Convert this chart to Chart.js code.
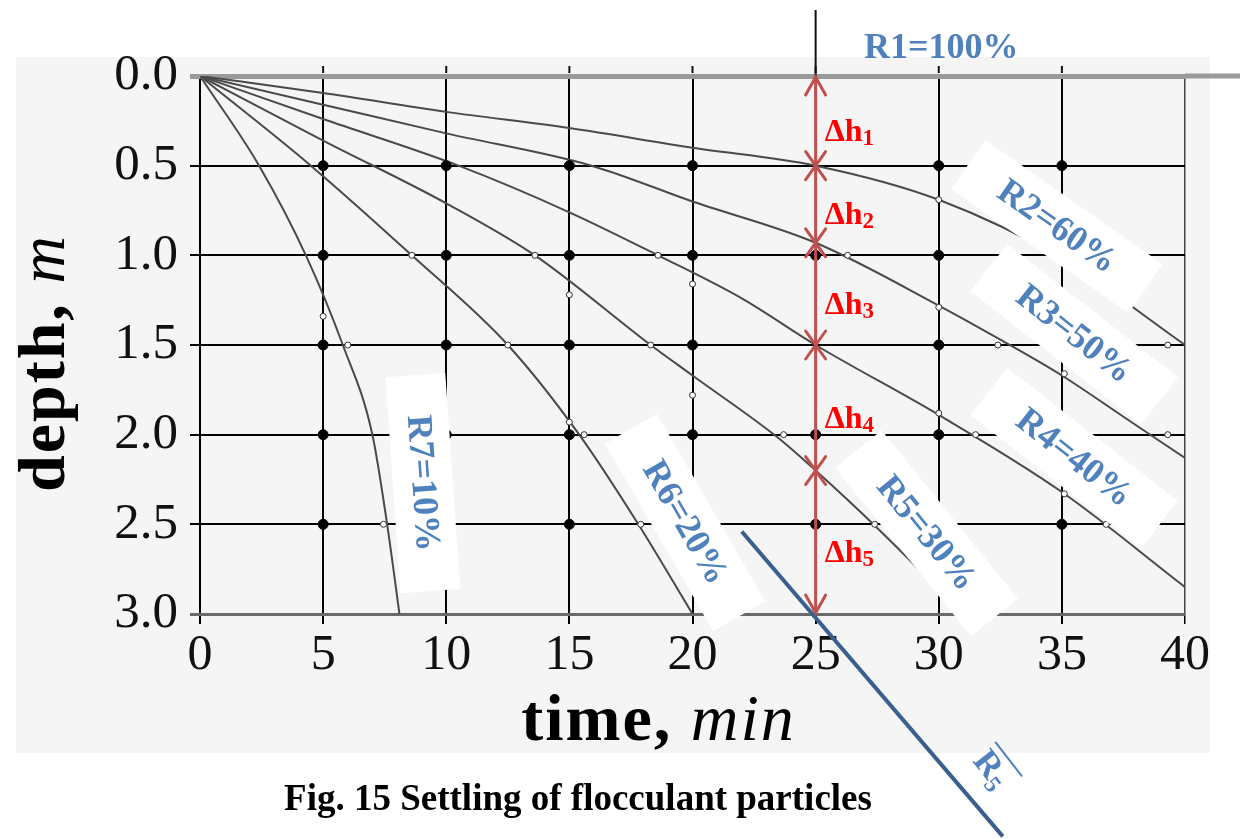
<!DOCTYPE html>
<html>
<head>
<meta charset="utf-8">
<title>Settling of flocculant particles</title>
<script src="https://cdn.jsdelivr.net/npm/chart.js@4.4.1/dist/chart.umd.min.js"></script>
<style>
  html, body { margin: 0; padding: 0; background: #fff; }
  canvas { display: block; }
</style>
</head>
<body>
<canvas id="settlingChart" width="1240" height="839"></canvas>
<script>
// Settling column test: depth reached by each iso-removal line over time
const timeTicks = [0, 5, 10, 15, 20, 25, 30, 35, 40];
const depthTicks = ['0.0', '0.5', '1.0', '1.5', '2.0', '2.5', '3.0'];

const ratioLabels = ['R1=100%', 'R2=60%', 'R3=50%', 'R4=40%', 'R5=30%', 'R6=20%', 'R7=10%'];

const r2Time  = [0, 5, 10, 15, 20, 25, 30, 35, 40];
const r2Depth = [0, 0.095, 0.2, 0.29, 0.4, 0.5, 0.69, 1.02, 1.5];

const r3Time  = [0, 5, 10, 15.9, 20, 25, 30, 32.5, 35, 37.5, 40];
const r3Depth = [0, 0.16, 0.32, 0.5, 0.7, 0.93, 1.28, 1.47, 1.67, 1.9, 2.13];

const r4Time  = [0, 5, 10.5, 15, 18.6, 22, 25, 30, 35, 40];
const r4Depth = [0, 0.24, 0.5, 0.76, 1.0, 1.24, 1.5, 1.89, 2.32, 2.85];

const r5Time  = [0, 5, 10, 13.6, 18.3, 20, 23.5, 25, 27.5, 31];
const r5Depth = [0, 0.36, 0.71, 1.0, 1.5, 1.67, 2.02, 2.2, 2.52, 3.0];

const r6Time  = [0, 4.5, 8.6, 12.5, 15.4, 17.8, 20];
const r6Depth = [0, 0.5, 1.0, 1.5, 2.0, 2.5, 3.0];

const r7Time  = [0, 2.4, 4.3, 5.8, 7.0, 7.6, 8.1];
const r7Depth = [0, 0.5, 1.0, 1.5, 2.0, 2.5, 3.0];

// sampling ports (filled) and measured points (open)
const portTime  = [5, 10, 15, 20, 30, 35,  5, 10, 15, 20, 25, 30,  5, 10, 15, 20, 30,  5, 10, 15, 20, 25, 30,  5, 15, 25, 35];
const portDepth = [0.5, 0.5, 0.5, 0.5, 0.5, 0.5,  1, 1, 1, 1, 1, 1,  1.5, 1.5, 1.5, 1.5, 1.5,  2, 2, 2, 2, 2, 2,  2.5, 2.5, 2.5, 2.5];

const sampleTime  = [30, 8.6, 13.6, 18.6, 26.3, 15, 20, 5.0, 6.0, 12.5, 18.3, 32.4, 39.3, 30, 35.1, 20, 15, 15.6, 23.7, 30, 31.5, 39.3, 35.1, 36.8, 27.4, 17.9, 7.45];
const sampleDepth = [0.69, 1.0, 1.0, 1.0, 1.0, 1.22, 1.16, 1.34, 1.5, 1.5, 1.5, 1.5, 1.5, 1.29, 1.66, 1.78, 1.93, 2.0, 2.0, 1.88, 2.0, 2.0, 2.33, 2.5, 2.5, 2.5, 2.5];

// overall removal line through the bottom of the column at t = 25
const r5BarTime  = [22.0, 32.6];
const r5BarDepth = [2.54, 4.24];

const readTime = 25;

const curves = [
    [r2Time, r2Depth], [r3Time, r3Depth], [r4Time, r4Depth],
    [r5Time, r5Depth], [r6Time, r6Depth], [r7Time, r7Depth]
];

function toPoints(xs, ys) {
    return xs.map((x, i) => ({ x: x, y: ys[i] }));
}

// label placement, in axis units
const labelSpots = [
    { t: 30.1, d: -0.16, angle: 0,  box: false },
    { t: 34.8, d: 0.84,  angle: 35, box: true },
    { t: 35.5, d: 1.44,  angle: 38, box: true },
    { t: 35.5, d: 2.13,  angle: 38, box: true },
    { t: 29.5, d: 2.55,  angle: 51, box: true },
    { t: 19.7, d: 2.49,  angle: 60, box: true },
    { t: 9.05, d: 2.27,  angle: 86, box: true }
];

const SERIF = '"Liberation Serif", "Times New Roman", serif';
const BLUE = '#4f81bd';

function drawRich(ctx, parts, x, y) {
    let cx = x;
    parts.forEach(p => {
        ctx.font = p.font;
        ctx.fillText(p.text, cx, y + (p.dy || 0));
        cx += ctx.measureText(p.text).width;
    });
    return cx - x;
}

function richWidth(ctx, parts) {
    let w = 0;
    parts.forEach(p => { ctx.font = p.font; w += ctx.measureText(p.text).width; });
    return w;
}

function depthAt(times, depths, t) {
    const i = times.indexOf(t);
    return i >= 0 ? depths[i] : null;
}

const overlayPlugin = {
    id: 'settlingOverlay',
    beforeDraw(chart) {
        const { ctx, chartArea: a } = chart;
        ctx.save();
        ctx.fillStyle = '#fff';
        ctx.fillRect(0, 0, chart.width, chart.height);
        ctx.fillStyle = '#f5f5f5';
        ctx.fillRect(a.left - 184, a.top - 19, a.right - a.left + 209, a.bottom - a.top + 158);
        ctx.restore();
    },
    beforeDatasetsDraw(chart) {
        const { ctx, chartArea: a, scales } = chart;
        const x = scales.x, y = scales.y;
        const y0 = y.getPixelForValue(0);
        ctx.save();
        // surface line runs on to the right edge
        ctx.strokeStyle = '#9a9a9a';
        ctx.lineWidth = 5;
        ctx.beginPath();
        ctx.moveTo(a.right, y0);
        ctx.lineTo(chart.width, y0);
        ctx.stroke();
        // short stubs above the surface
        ctx.strokeStyle = '#111';
        ctx.lineWidth = 2;
        timeTicks.slice(1, -1).forEach(t => {
            const px = x.getPixelForValue(t);
            ctx.beginPath();
            ctx.moveTo(px, y0 - 10);
            ctx.lineTo(px, y0 - 3);
            ctx.stroke();
        });
        const px25 = x.getPixelForValue(readTime);
        ctx.beginPath();
        ctx.moveTo(px25, 10);
        ctx.lineTo(px25, y0);
        ctx.stroke();
        ctx.restore();
    },
    beforeDatasetDraw(chart, args) {
        if (!chart.data.datasets[args.index].overlayLine) return;
        const { ctx, scales } = chart;
        const x = scales.x, y = scales.y;
        ctx.save();
        ctx.font = 'bold 36px ' + SERIF;
        labelSpots.forEach((s, i) => {
            const cx = x.getPixelForValue(s.t);
            const cy = y.getPixelForValue(s.d);
            const w = ctx.measureText(ratioLabels[i]).width;
            ctx.save();
            ctx.translate(cx, cy);
            ctx.rotate(s.angle * Math.PI / 180);
            if (s.box) {
                ctx.fillStyle = '#fff';
                ctx.fillRect(-w / 2 - 40, -30, w + 80, 60);
            }
            ctx.fillStyle = BLUE;
            ctx.textAlign = 'center';
            ctx.textBaseline = 'middle';
            ctx.fillText(ratioLabels[i], 0, 1);
            ctx.restore();
        });
        ctx.restore();
    },
    afterDatasetsDraw(chart) {
        const { ctx, chartArea: a, scales } = chart;
        const x = scales.x, y = scales.y;
        const px = x.getPixelForValue(readTime);
        const top = y.getPixelForValue(0);
        const bottom = y.getPixelForValue(3);
        const red = '#c0504d';

        ctx.save();
        ctx.strokeStyle = red;
        ctx.lineWidth = 3;
        ctx.lineCap = 'round';
        ctx.beginPath();
        ctx.moveTo(px, top + 2);
        ctx.lineTo(px, bottom - 2);
        ctx.moveTo(px - 10, top + 19);
        ctx.lineTo(px, top + 1);
        ctx.lineTo(px + 10, top + 19);
        ctx.moveTo(px - 10, bottom - 19);
        ctx.lineTo(px, bottom - 1);
        ctx.lineTo(px + 10, bottom - 19);
        ctx.stroke();

        // crossings of the iso-removal lines at t = 25
        const bounds = [0];
        curves.slice(0, 4).forEach(c => bounds.push(depthAt(c[0], c[1], readTime)));
        bounds.push(3);
        bounds.slice(1, -1).forEach(d => {
            const py = y.getPixelForValue(d);
            ctx.beginPath();
            ctx.moveTo(px - 10, py - 14);
            ctx.lineTo(px + 10, py + 14);
            ctx.moveTo(px + 10, py - 14);
            ctx.lineTo(px - 10, py + 14);
            ctx.stroke();
        });

        ctx.fillStyle = '#ff0000';
        ctx.textBaseline = 'alphabetic';
        for (let i = 0; i < bounds.length - 1; i++) {
            const mid = (bounds[i] + bounds[i + 1]) / 2;
            const py = y.getPixelForValue(mid) + 20;
            drawRich(ctx, [
                { text: 'Δh', font: 'bold 32px ' + SERIF },
                { text: String(i + 1), font: 'bold 23px ' + SERIF, dy: 4 }
            ], px + 9, py);
        }

        // overall removal label
        const bx = x.getPixelForValue(32.2);
        const by = y.getPixelForValue(3.86);
        ctx.save();
        ctx.translate(bx, by);
        ctx.rotate(52 * Math.PI / 180);
        ctx.fillStyle = BLUE;
        const barParts = [
            { text: 'R', font: 'bold 35px ' + SERIF },
            { text: '5', font: 'bold 24px ' + SERIF, dy: 6 }
        ];
        const bw = richWidth(ctx, barParts);
        drawRich(ctx, barParts, -bw / 2, 12);
        ctx.strokeStyle = BLUE;
        ctx.lineWidth = 2;
        ctx.beginPath();
        ctx.moveTo(-bw / 2, -18);
        ctx.lineTo(bw / 2 + 5, -18);
        ctx.stroke();
        ctx.restore();

        // axis titles
        ctx.fillStyle = '#000';
        ctx.letterSpacing = '2px';
        const tParts = [
            { text: 'time, ', font: 'bold 66px ' + SERIF },
            { text: 'min', font: 'italic 66px ' + SERIF }
        ];
        const tw = richWidth(ctx, tParts);
        drawRich(ctx, tParts, (a.left + a.right) / 2 - 34 - tw / 2, a.bottom + 126);

        const dParts = [
            { text: 'depth, ', font: 'bold 66px ' + SERIF },
            { text: 'm', font: 'italic 66px ' + SERIF }
        ];
        const dw = richWidth(ctx, dParts);
        ctx.save();
        ctx.translate(a.left - 136, (a.top + a.bottom) / 2 + 18);
        ctx.rotate(-Math.PI / 2);
        drawRich(ctx, dParts, -dw / 2, 0);
        ctx.restore();
        ctx.letterSpacing = '0px';

        ctx.font = 'bold 37px ' + SERIF;
        ctx.textAlign = 'center';
        ctx.fillText('Fig. 15 Settling of flocculant particles', a.left + 378, a.bottom + 196);
        ctx.restore();
    }
};

const curveDatasets = curves.map((c, i) => ({
    label: ratioLabels[i + 1],
    data: toPoints(c[0], c[1]),
    showLine: true,
    borderColor: '#4a4a4a',
    borderWidth: 2,
    pointRadius: 0,
    cubicInterpolationMode: 'monotone',
    order: 3
}));

function gridColor(v) {
    if (v === 0) return '#9a9a9a';
    if (v === 3) return '#6a6a6a';
    return '#000';
}

new Chart(document.getElementById('settlingChart'), {
    type: 'scatter',
    data: {
        datasets: [
            {
                label: 'R5 overall',
                overlayLine: true,
                data: toPoints(r5BarTime, r5BarDepth),
                showLine: true,
                borderColor: '#3a5f8f',
                borderWidth: 4,
                pointRadius: 0,
                clip: false,
                order: 0
            },
            {
                label: 'ports',
                data: toPoints(portTime, portDepth),
                pointRadius: 5,
                backgroundColor: '#000',
                borderColor: '#000',
                order: 1
            },
            {
                label: 'samples',
                data: toPoints(sampleTime, sampleDepth),
                pointRadius: 3,
                backgroundColor: '#fff',
                borderColor: '#333',
                borderWidth: 1,
                order: 1
            },
            ...curveDatasets
        ]
    },
    options: {
        responsive: false,
        animation: false,
        events: [],
        layout: { padding: { left: 0, top: 76, right: 55, bottom: 0 } },
        plugins: {
            legend: { display: false },
            title: { display: false },
            tooltip: { enabled: false }
        },
        scales: {
            x: {
                type: 'linear',
                min: 0,
                max: 40,
                afterFit(scale) { scale.height = 225; },
                border: { display: false },
                grid: {
                    color: ctx => ctx.tick && ctx.tick.value === 40 ? '#444' : '#000',
                    lineWidth: ctx => ctx.tick && ctx.tick.value === 40 ? 1.5 : 2,
                    tickLength: 10,
                    tickColor: '#000'
                },
                ticks: {
                    stepSize: 5,
                    padding: 2,
                    color: '#111',
                    font: { family: SERIF, size: 50 },
                    callback: v => timeTicks.includes(v) ? String(v) : ''
                }
            },
            y: {
                type: 'linear',
                reverse: true,
                min: 0,
                max: 3,
                afterFit(scale) { scale.width = 200; },
                border: { display: false },
                grid: {
                    color: ctx => gridColor(ctx.tick ? ctx.tick.value : -1),
                    lineWidth: ctx => ctx.tick && ctx.tick.value === 0 ? 5 : (ctx.tick && ctx.tick.value === 3 ? 3 : 2),
                    tickLength: 10
                },
                ticks: {
                    stepSize: 0.5,
                    padding: 12,
                    color: '#111',
                    font: { family: SERIF, size: 51 },
                    callback: v => depthTicks[Math.round(v / 0.5)]
                }
            }
        }
    },
    plugins: [overlayPlugin]
});
</script>
</body>
</html>
